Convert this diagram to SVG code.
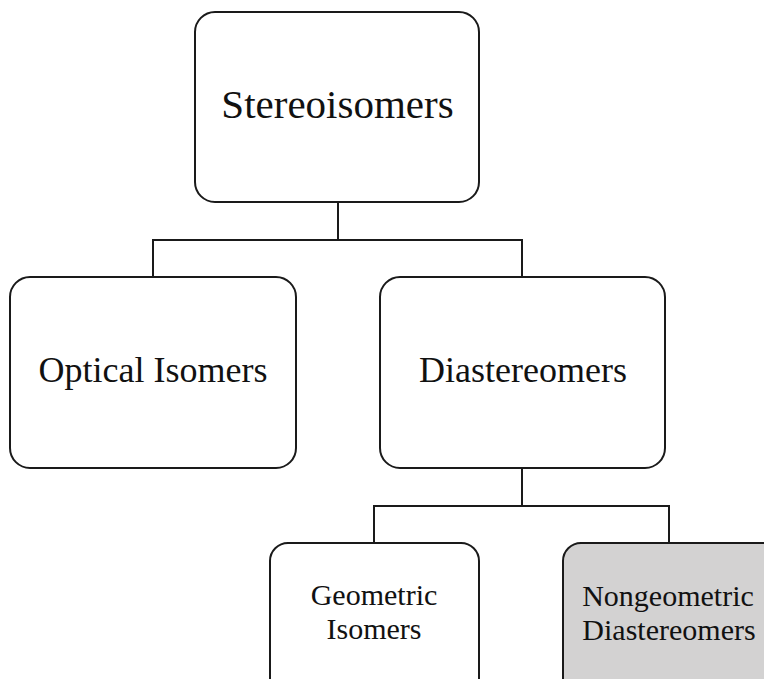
<svg xmlns="http://www.w3.org/2000/svg" width="764" height="679" viewBox="0 0 764 679">
<style>
.box{fill:#fff;stroke:#1a1a1a;stroke-width:2}
.grey{fill:#d3d2d2}
.con{fill:none;stroke:#1a1a1a;stroke-width:2}
text{font-family:"Liberation Serif","Times New Roman",serif;fill:#111;text-anchor:middle}
.t1{font-size:41px}
.t2{font-size:36px}
.t3{font-size:30px}
</style>
<rect width="764" height="679" fill="#fff"/>
<g id="connectors">
<path class="con" d="M338 202V240M153 277V240H522V277"/>
<path class="con" d="M522 468V506M374 543V506H669V543"/>
</g>
<g id="stereoisomers">
<rect class="box" x="195" y="12" width="284" height="190" rx="20"/>
<text class="t1" x="337.5" y="118">Stereoisomers</text>
</g>
<g id="optical">
<rect class="box" x="10" y="277" width="286" height="191" rx="20"/>
<text class="t2" x="153" y="382">Optical Isomers</text>
</g>
<g id="diastereomers">
<rect class="box" x="380" y="277" width="285" height="191" rx="20"/>
<text class="t2" x="523" y="382">Diastereomers</text>
</g>
<g id="geometric">
<rect class="box" x="270" y="543" width="209" height="170" rx="18"/>
<text class="t3" x="374" y="605">Geometric</text>
<text class="t3" x="374" y="639">Isomers</text>
</g>
<g id="nongeometric">
<rect class="box grey" x="563" y="543" width="230" height="170" rx="18"/>
<text class="t3" x="668" y="606">Nongeometric</text>
<text class="t3" x="669" y="640">Diastereomers</text>
</g>
</svg>
